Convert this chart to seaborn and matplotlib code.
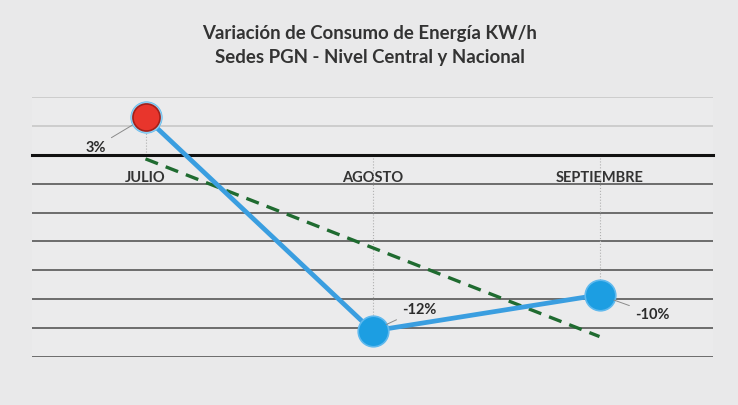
import numpy as np
import pandas as pd
import seaborn as sns
import matplotlib.pyplot as plt

meses = ["JULIO", "AGOSTO", "SEPTIEMBRE"]
variacion = [2.6, -12.2, -9.7]
etiquetas = ["3%", "-12%", "-10%"]
titulo = "Variación de Consumo de Energía KW/h\nSedes PGN - Nivel Central y Nacional"

sns.set_style("white")
plt.rcParams['font.family'] = ['Lato', 'DejaVu Sans']

df = pd.DataFrame({"pos": np.arange(len(meses)), "var": variacion})

fig = plt.figure(figsize=(7.38, 4.06), dpi=100, facecolor="#e9e9ea")
ax = fig.add_axes([32 / 738, 1 - 358 / 406, 681 / 738, 260 / 406])
ax.set_facecolor("#ebebec")

ax.set_xlim(-0.5, 2.5)
ax.set_ylim(-14, 4)

# gridlines
for g in np.arange(-14, 5, 2):
    if g == 0:
        continue
    c = "#c4c4c4" if g > 0 else "#4a4a4a"
    ax.axhline(g, color=c, lw=1.1, zorder=1)

# drop lines
for i, v in enumerate(variacion):
    ax.plot([i, i], [0, v], color="#b0b0b0", lw=0.8, ls=":", zorder=1)

# trend line
sns.regplot(data=df, x="pos", y="var", ax=ax, scatter=False, ci=None, truncate=True,
            line_kws=dict(color="#1f6b30", lw=2.4, ls=(0, (4, 2.5)), zorder=3))

sns.lineplot(data=df, x="pos", y="var", ax=ax, color="#3a9ee0", lw=3.4, zorder=4,
             marker="o", markersize=22, markerfacecolor="#1c9ee2",
             markeredgecolor="#5fb9ee", markeredgewidth=1.2, clip_on=False)
sns.scatterplot(x=df["pos"][:1], y=df["var"][:1], ax=ax, s=500, color="#8fd0f2",
                linewidth=0, zorder=5, clip_on=False)
sns.scatterplot(x=df["pos"][:1], y=df["var"][:1], ax=ax, s=380, color="#e8352c",
                edgecolor="#a3201a", linewidth=1.2, zorder=6, clip_on=False)

offsets = [(-50, -30), (47, 22), (53, -19)]
for i, (v, t, off) in enumerate(zip(variacion, etiquetas, offsets)):
    ax.annotate(t, xy=(i, v), xytext=off, textcoords="offset pixels",
                ha="center", va="center", fontsize=10.5, fontweight="bold", color="#2b2b2b",
                arrowprops=dict(arrowstyle="-", color="#8a8a8a", lw=0.7,
                                shrinkA=2, shrinkB=11), zorder=7)

# zero axis carries the month labels
for s in ["top", "right", "left"]:
    ax.spines[s].set_visible(False)
ax.spines["bottom"].set_position(("data", 0))
ax.spines["bottom"].set_color("#111111")
ax.spines["bottom"].set_linewidth(2.2)
ax.spines["bottom"].set_zorder(2)
ax.set_xticks(range(len(meses)))
ax.set_xticklabels(meses, fontsize=10.5, fontweight="bold", color="#333333")
ax.tick_params(axis="x", length=0, pad=11)
ax.set_yticks([])
ax.set_xlabel("")
ax.set_ylabel("")

fig.text(370 / 738, 1 - 45 / 406, titulo, ha="center", va="center", fontsize=13.4,
         fontweight="bold", color="#333333", linespacing=1.5)

fig.savefig("out.png", dpi=100, facecolor=fig.get_facecolor())
